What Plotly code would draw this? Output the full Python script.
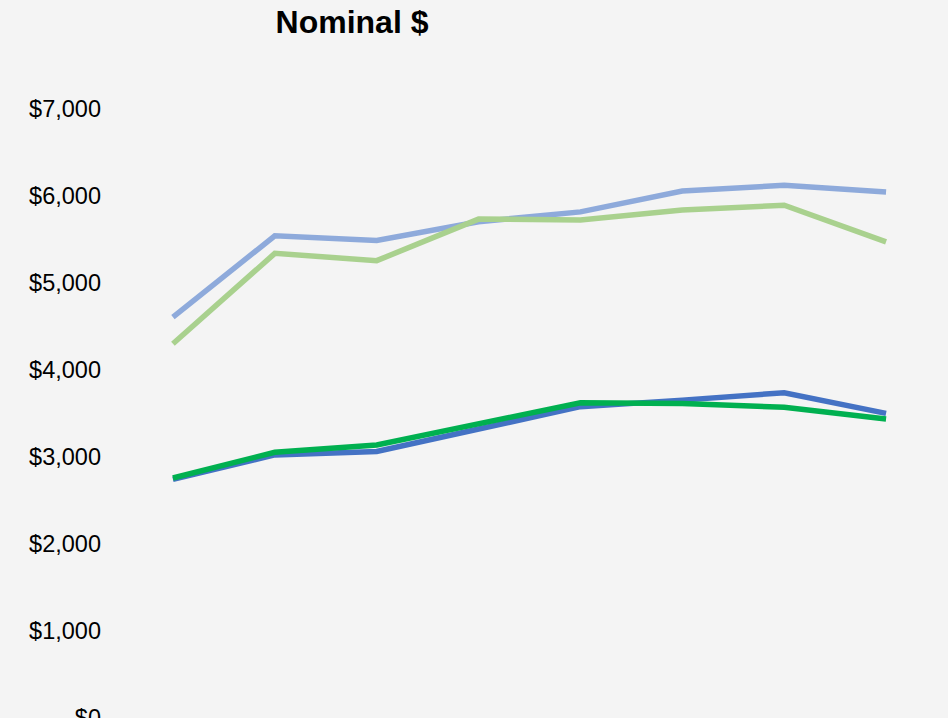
import plotly.graph_objects as go

categories = ["2012", "2013", "2014", "2015", "2016", "2017", "2018", "2019"]

series_names = ["Series A (light blue)", "Series B (light green)", "Series C (blue)", "Series D (green)"]
light_blue = [4603, 5538, 5485, 5700, 5813, 6053, 6118, 6041]
light_green = [4297, 5336, 5252, 5730, 5721, 5835, 5889, 5469]
blue = [2737, 3018, 3057, 3310, 3573, 3648, 3733, 3496]
green = [2752, 3049, 3133, 3375, 3618, 3610, 3565, 3431]

y_tick_vals = [0, 1000, 2000, 3000, 4000, 5000, 6000, 7000]
y_tick_text = ["$0", "$1,000", "$2,000", "$3,000", "$4,000", "$5,000", "$6,000", "$7,000"]

colors = ["#8eaadb", "#a9d18e", "#4472c4", "#00b050"]
values = [light_blue, light_green, blue, green]

fig = go.Figure()
for name, vals, col in zip(series_names, values, colors):
    fig.add_trace(go.Scatter(x=categories, y=vals, mode="lines", name=name,
                             line=dict(color=col, width=5.5)))

fig.update_layout(
    width=948, height=718,
    paper_bgcolor="#f4f4f4", plot_bgcolor="#f4f4f4",
    margin=dict(l=122, r=11, t=40, b=0, pad=0),
    showlegend=False,
    font=dict(family="Liberation Sans, Arial, sans-serif", color="#000000"),
    title=dict(text="<b>Nominal $</b>", font=dict(size=32, color="#000000"),
               x=352/948, xref="container", xanchor="center",
               y=1 - 11/718, yref="container", yanchor="top"),
    xaxis=dict(type="category", range=[-0.5, 7.5], showgrid=False, zeroline=False,
               showline=False, ticks="", showticklabels=False, automargin=False),
    yaxis=dict(range=[-8, 7790], tickvals=y_tick_vals, ticktext=y_tick_text,
               showgrid=False, zeroline=False, showline=False, ticks="",
               tickfont=dict(size=23.5, color="#000000"), ticklabelstandoff=20,
               ticklabeloverflow="allow", automargin=False),
)

fig.write_html(
    "out.html",
    config={"displayModeBar": False},
    post_script="document.body.style.margin='0';document.body.style.overflow='hidden';"
                "document.body.style.background='#f4f4f4';",
)
